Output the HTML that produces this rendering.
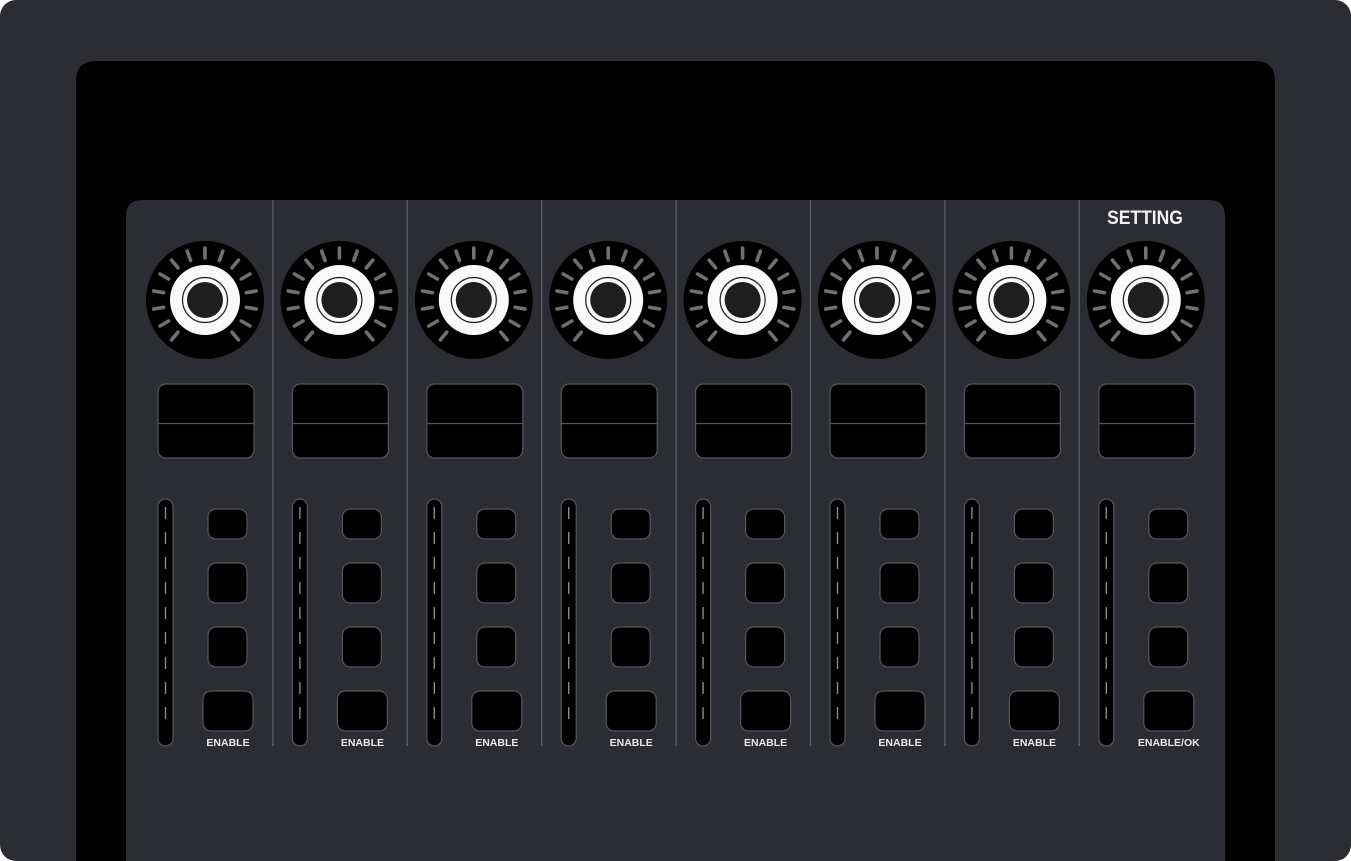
<!DOCTYPE html>
<html><head><meta charset="utf-8"><style>
html,body{margin:0;padding:0;background:#fff;width:1351px;height:861px;overflow:hidden}
svg{display:block}
text{font-family:"Liberation Sans",sans-serif;font-weight:bold}
</style></head><body>
<svg id="s" width="1351" height="861" xmlns="http://www.w3.org/2000/svg">
<rect x="0" y="0" width="1351" height="861" rx="16" fill="#2b2d32"/>
<path d="M76 861 V81 Q76 61 96 61 H1255 Q1275 61 1275 81 V861 Z" fill="#000"/>
<path d="M126 861 V216 Q126 200 142 200 H1209 Q1225 200 1225 216 V861 Z" fill="#2b2d32"/>
<text x="1145" y="224" font-size="19" fill="#f2f2f2" text-anchor="middle" transform="translate(1145 0) scale(0.92 1) translate(-1145 0)">SETTING</text>
<g id="strips"></g>
</svg>
<script>
const channels=[1,2,3,4,5,6,7,8];
const buttonLabels=["ENABLE","ENABLE","ENABLE","ENABLE","ENABLE","ENABLE","ENABLE","ENABLE/OK"];
const tickAngles=[-140,-120,-100,-80,-60,-40,-20,0,20,40,60,80,100,120,140];
const NS="http://www.w3.org/2000/svg";
const g=document.getElementById('strips');
function mk(tag,attrs,parent){const e=document.createElementNS(NS,tag);for(const k in attrs)e.setAttribute(k,attrs[k]);(parent||g).appendChild(e);return e;}
const x0=205,pitch=134.4;
channels.forEach((c,i)=>{
  const cx=x0+i*pitch;
  const sg=mk('g',{});
  
  
  if(i>0){const d=mk('line',{x1:cx-66.5,x2:cx-66.5,y1:200,y2:746,stroke:'#5f6166','stroke-width':1.2},sg);
    
    }
  const kg=mk('g',{},sg);
  
  
  mk('circle',{cx:cx,cy:300,r:59,fill:'#000'},kg);
  tickAngles.forEach(a=>{const r=a*Math.PI/180,s=Math.sin(r),co=-Math.cos(r);
    const t=mk('line',{x1:cx+s*42,y1:300+co*42,x2:cx+s*52,y2:300+co*52,stroke:'#707070','stroke-width':3.6,'stroke-linecap':'round'},kg);
    
    });
  mk('circle',{cx:cx,cy:300,r:35,fill:'#fafafa'},kg);
  mk('circle',{cx:cx,cy:300,r:22.5,fill:'none',stroke:'#222','stroke-width':1.2},kg);
  mk('circle',{cx:cx,cy:300,r:18,fill:'#1e1e1e'},kg);
  const dp=mk('g',{},sg);
  
  
  mk('rect',{x:cx-47,y:384,width:96,height:74,rx:8,fill:'#000',stroke:'#55575c','stroke-width':1.2},dp);
  mk('line',{x1:cx-47,x2:cx+49,y1:423.5,y2:423.5,stroke:'#55575c','stroke-width':1.2},dp);
  const sl=mk('g',{},sg);
  
  
  mk('rect',{x:cx-47,y:499,width:15,height:247,rx:7.5,fill:'#000',stroke:'#55575c','stroke-width':1.2},sl);
  for(let k=0;k<9;k++){mk('line',{x1:cx-39.5,x2:cx-39.5,y1:507+k*25,y2:519+k*25,stroke:'#8a8a8a','stroke-width':1.4},sl);}
  const btns=[[cx+3,509,39,30],[cx+3,563,39,40],[cx+3,627,39,40],[cx-2,691,50,40]];
  btns.forEach((b,j)=>{const r=mk('rect',{x:b[0],y:b[1],width:b[2],height:b[3],rx:8,fill:'#000',stroke:'#55575c','stroke-width':1.2},sg);
    
    });
  const tx=mk('text',{x:cx+23,y:746,'font-size':10.5,fill:'#e8e8e8','text-anchor':'middle'},sg);
  tx.textContent=buttonLabels[i];
  
  
});
</script>
</body></html>
